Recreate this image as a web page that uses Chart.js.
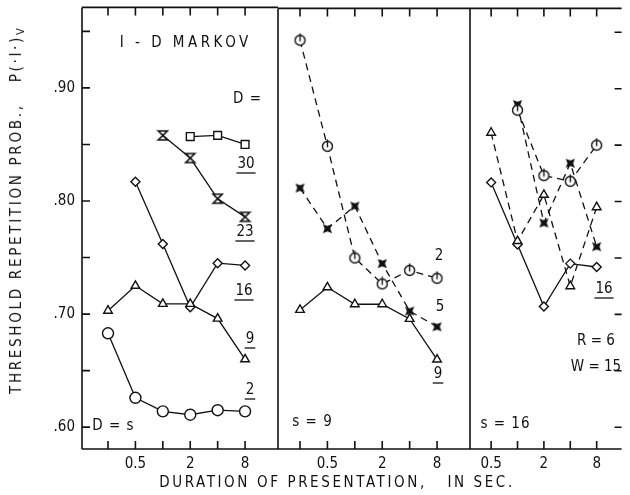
<!DOCTYPE html>
<html>
<head>
<meta charset="utf-8">
<script src="https://cdn.jsdelivr.net/npm/chart.js@4/dist/chart.umd.min.js"></script>
<style>
html,body{margin:0;padding:0;background:#fff;}
#wrap{position:relative;width:630px;height:495px;overflow:hidden;font-family:'Liberation Sans Narrow','DejaVu Sans Condensed','Liberation Sans',sans-serif;color:#111;}
#wrap canvas{position:absolute;left:0;top:0;}
#yt{position:absolute;left:17px;top:211px;transform:translate(-50%,-50%) rotate(-90deg);white-space:nowrap;font-size:15px;letter-spacing:2.7px;}
#yt sub{font-size:11px;vertical-align:-3px;letter-spacing:0;}
#xt{position:absolute;left:337px;top:482px;transform:translate(-50%,-50%);white-space:nowrap;font-size:15px;letter-spacing:2.6px;}
</style>
</head>
<body>
<div id="wrap">
  <canvas id="c1" width="630" height="495"></canvas>
  <canvas id="c2" width="630" height="495"></canvas>
  <canvas id="c3" width="630" height="495"></canvas>
  <div id="yt">THRESHOLD REPETITION PROB.,&nbsp;&nbsp; P(·I·)<sub>V</sub></div>
  <div id="xt">DURATION OF PRESENTATION,&nbsp;&nbsp; IN SEC.</div>
</div>
<script>
// ---------- data ----------
const durations = [0.25, 0.5, 1, 2, 4, 8];      // seconds (panels s = D and s = 9)
const durationsS16 = [0.5, 1, 2, 4, 8];         // seconds (panel s = 16)
const xTickLabels = ['0.5', '2', '8'];
const yTickValues = [0.60, 0.65, 0.70, 0.75, 0.80, 0.85, 0.90, 0.95];
const yTickLabels = ['.60', '.70', '.80', '.90'];

// panel D = s
const sD_D2  = [0.683, 0.626, 0.614, 0.611, 0.615, 0.614];
const sD_D9  = [0.703, 0.725, 0.709, 0.709, 0.696, 0.660];
const sD_D16 = [null, 0.817, 0.762, 0.706, 0.745, 0.743];
const sD_D23 = [null, null, 0.858, 0.838, 0.802, 0.786];
const sD_D30 = [null, null, null, 0.857, 0.858, 0.850];
// panel s = 9
const s9_D2 = [0.943, 0.849, 0.750, 0.727, 0.739, 0.732];
const s9_D5 = [0.812, 0.776, 0.796, 0.745, 0.703, 0.689];
const s9_D9 = [0.704, 0.724, 0.709, 0.709, 0.696, 0.660];
// panel s = 16
const s16_D2  = [null, 0.881, 0.823, 0.818, 0.850];
const s16_D5  = [null, 0.886, 0.781, 0.834, 0.760];
const s16_D9  = [0.861, 0.765, 0.806, 0.725, 0.795];
const s16_D16 = [0.817, 0.762, 0.707, 0.745, 0.742];

// ---------- styling ----------
const FONT = "'Liberation Sans Narrow','DejaVu Sans Condensed','Liberation Sans',sans-serif";
const INK = '#111';
Chart.defaults.font.family = FONT;
Chart.defaults.color = INK;

function mk(size, draw) {
  const c = document.createElement('canvas');
  c.width = size; c.height = size;
  const g = c.getContext('2d');
  draw(g, size / 2);
  return c;
}
const hourglass = mk(13, (g, c) => {
  g.fillStyle = '#fff'; g.strokeStyle = INK; g.lineWidth = 1.6;
  g.beginPath(); g.moveTo(2, 2); g.lineTo(11, 2); g.lineTo(2, 11); g.lineTo(11, 11); g.closePath();
  g.fill(); g.stroke();
});
const star4 = mk(15, (g, c) => {
  g.fillStyle = INK; g.beginPath();
  for (let i = 0; i < 8; i++) {
    const a = Math.PI / 4 + i * Math.PI / 4;
    const r = i % 2 === 0 ? 6.5 : 2.8;
    g.lineTo(c + r * Math.cos(a), c + r * Math.sin(a));
  }
  g.closePath(); g.fill();
});
const phi = mk(15, (g, c) => {
  g.fillStyle = '#fff'; g.strokeStyle = INK; g.lineWidth = 1.4;
  g.beginPath(); g.arc(c, c, 5, 0, Math.PI * 2); g.fill(); g.stroke();
  g.beginPath(); g.moveTo(c, 0.5); g.lineTo(c, c + 1); g.stroke();
});

const framePlugin = {
  id: 'frame',
  afterDraw(chart, args, o) {
    const ctx = chart.ctx, a = chart.chartArea;
    const xs = chart.scales.x, ys = chart.scales.y;
    ctx.save();
    ctx.strokeStyle = INK; ctx.lineWidth = 1.6; ctx.lineCap = 'butt';
    ctx.beginPath();
    ctx.moveTo(a.left, a.top); ctx.lineTo(a.right, a.top);
    ctx.moveTo(a.left, a.bottom); ctx.lineTo(a.right, a.bottom);
    ctx.moveTo(a.left, a.top); ctx.lineTo(a.left, a.bottom);
    o.xTicks.forEach(v => {
      const p = xs.getPixelForValue(v);
      ctx.moveTo(p, a.bottom); ctx.lineTo(p, a.bottom - 8);
      ctx.moveTo(p, a.top); ctx.lineTo(p, a.top + 8);
    });
    yTickValues.forEach(v => {
      const p = ys.getPixelForValue(v);
      if (o.leftTicks) { ctx.moveTo(a.left, p); ctx.lineTo(a.left + 8, p); }
      if (o.rightTicks) { ctx.moveTo(a.right, p); ctx.lineTo(a.right - 7, p); }
    });
    ctx.stroke();
    ctx.fillStyle = INK; ctx.textAlign = 'center'; ctx.textBaseline = 'middle';
    (o.labels || []).forEach(L => {
      ctx.font = (L.size || 15) + 'px ' + FONT;
      ctx.letterSpacing = (L.ls || 0) + 'px';
      ctx.fillText(L.t, L.x + (L.ls || 0) / 2, L.y);
      if (L.u) {
        const w = ctx.measureText(L.t).width;
        ctx.lineWidth = 1.3;
        ctx.beginPath(); ctx.moveTo(L.x - w / 2 - 1, L.y + 9); ctx.lineTo(L.x + w / 2 + 1, L.y + 9); ctx.stroke();
      }
    });
    ctx.letterSpacing = '0px';
    ctx.restore();
  }
};

function series(durs, vals, style, r, dash) {
  return {
    data: durs.map((d, i) => ({ x: d, y: vals[i] })),
    borderColor: INK, borderWidth: 1.3, borderDash: dash ? [7, 5] : [],
    pointStyle: style, pointRadius: r, pointBorderColor: INK,
    pointBackgroundColor: '#fff', pointBorderWidth: 1.4,
    fill: false, tension: 0, spanGaps: false
  };
}

function panel(id, cfg) {
  return new Chart(document.getElementById(id), {
    type: 'line',
    data: { datasets: cfg.datasets },
    options: {
      responsive: false, animation: false, events: [],
      layout: { padding: { left: cfg.padL, right: cfg.padR, top: 5, bottom: 0 } },
      plugins: { legend: { display: false }, tooltip: { enabled: false }, frame: cfg.frame },
      scales: {
        x: {
          type: 'logarithmic', min: cfg.xmin, max: cfg.xmax, bounds: 'data',
          grid: { display: false, drawTicks: false }, border: { display: false },
          afterBuildTicks: sc => { sc.ticks = cfg.frame.xTicks.map(v => ({ value: v })); },
          ticks: {
            autoSkip: false, maxRotation: 0, padding: 6, font: { size: 15 }, color: INK,
            callback: v => xTickLabels.includes(String(v)) ? String(v) : ''
          },
          afterFit: sc => { sc.height = 46; sc.paddingLeft = 0; sc.paddingRight = 0; }
        },
        y: {
          type: 'linear', display: cfg.showY, min: 0.5807, max: 0.9712,
          grid: { display: false, drawTicks: false }, border: { display: false },
          afterBuildTicks: sc => { sc.ticks = yTickValues.map(v => ({ value: v })); },
          ticks: {
            autoSkip: false, padding: 7, font: { size: 15 }, color: INK,
            callback: v => { const s = '.' + Math.round(v * 100); return yTickLabels.includes(s) ? s : ''; }
          },
          afterFit: sc => {
            sc.width = cfg.showY ? 82 : 0;
            sc.paddingTop = 0; sc.paddingBottom = 0;
          }
        }
      }
    },
    plugins: [framePlugin]
  });
}

// Panel 1: D = s
panel('c1', {
  padL: 0, padR: 352, showY: true, xmin: 0.1295, xmax: 18.4,
  datasets: [
    series(durations, sD_D2, 'circle', 5.5, false),
    series(durations, sD_D9, 'triangle', 5, false),
    series(durations, sD_D16, 'rectRot', 4.5, false),
    series(durations, sD_D23, hourglass, 6, false),
    series(durations, sD_D30, 'rect', 5.5, false)
  ],
  frame: {
    xTicks: durations, leftTicks: true, rightTicks: false,
    labels: [
      { t: 'I - D MARKOV', x: 184, y: 43, ls: 3.5 },
      { t: 'D =', x: 247, y: 99, ls: 1 },
      { t: '30', x: 246, y: 164, u: true },
      { t: '23', x: 245, y: 232, u: true },
      { t: '16', x: 244, y: 291, u: true },
      { t: '9', x: 250, y: 339, u: true },
      { t: '2', x: 250, y: 390, u: true },
      { t: 'D = s', x: 113, y: 426, ls: 1 }
    ]
  }
});

// Panel 2: s = 9
panel('c2', {
  padL: 278, padR: 160, showY: false, xmin: 0.1433, xmax: 18.4,
  datasets: [
    series(durations, s9_D2, phi, 7, true),
    series(durations, s9_D5, star4, 7, true),
    series(durations, s9_D9, 'triangle', 5, false)
  ],
  frame: {
    xTicks: durations, leftTicks: false, rightTicks: false,
    labels: [
      { t: '2', x: 439, y: 256 },
      { t: '5', x: 440, y: 307 },
      { t: '9', x: 438, y: 374, u: true },
      { t: 's = 9', x: 312, y: 422, ls: 1 }
    ]
  }
});

// Panel 3: s = 16
panel('c3', {
  padL: 470, padR: 1, showY: false, xmin: 0.287, xmax: 15.4,
  datasets: [
    series(durationsS16, s16_D2, phi, 7, true),
    series(durationsS16, s16_D5, star4, 7, true),
    series(durationsS16, s16_D9, 'triangle', 5, true),
    series(durationsS16, s16_D16, 'rectRot', 4.5, false)
  ],
  frame: {
    xTicks: durationsS16, leftTicks: false, rightTicks: true,
    labels: [
      { t: '16', x: 604, y: 289, u: true },
      { t: 'R = 6', x: 596, y: 341 },
      { t: 'W = 15', x: 596, y: 367 },
      { t: 's = 16', x: 505, y: 424, ls: 1 }
    ]
  }
});
</script>
</body>
</html>
